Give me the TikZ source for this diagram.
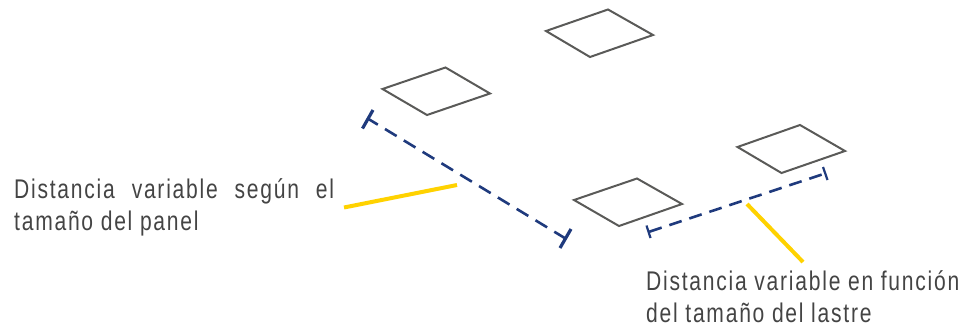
\documentclass[tikz,border=0pt]{standalone}
\usepackage{fontspec}
\newfontfamily\labfont[FakeStretch=0.78,LetterSpace=6.5]{Liberation Sans}
\definecolor{panelgray}{HTML}{5A5A58}
\definecolor{dimblue}{HTML}{1F3A7D}
\definecolor{leaderyellow}{HTML}{FFD200}
\definecolor{textgray}{HTML}{444444}
\tikzset{
  panel/.style={draw=panelgray,line width=2pt,line join=miter},
  dimline/.style={draw=dimblue,line width=2.6pt},
  dimtick/.style={draw=dimblue,line width=3.2pt},
  dimticksmall/.style={draw=dimblue,line width=2.2pt},
  leader/.style={draw=leaderyellow,line width=4pt},
  caption/.style={anchor=base west,inner sep=0pt,text=textgray,font=\labfont\fontsize{27}{32}\selectfont}
}
\begin{document}
\begin{tikzpicture}[x=1pt,y=-1pt]
\useasboundingbox (0,0) rectangle (969,327);
% panels
\draw[panel] (546,31) -- (608,9.5) -- (653,35) -- (590,57) -- cycle;
\draw[panel] (382.5,89) -- (445.5,67.5) -- (490,93.5) -- (427,115) -- cycle;
\draw[panel] (574,200) -- (637,178.5) -- (682,204) -- (619,226) -- cycle;
\draw[panel] (737.5,147) -- (800,125) -- (845,151) -- (781.5,173) -- cycle;
% dimension 1
\coordinate (a1) at (368.5,119);
\coordinate (a2) at (565.5,238.5);
\coordinate (a1u) at (373,110);
\coordinate (a1d) at (362.5,128.5);
\coordinate (a2u) at (571,229);
\coordinate (a2d) at (560,248);
\draw[dimline,dash pattern=on 13.6pt off 8.4pt,dash phase=2.7pt] (a1) -- (a2);
\draw[dimtick] (a1u) -- (a1d);
\draw[dimtick] (a2u) -- (a2d);
% dimension 2
\coordinate (b1) at (648.5,232);
\coordinate (b2) at (825,173.5);
\coordinate (b1u) at (646.5,225.5);
\coordinate (b1d) at (650.5,238);
\coordinate (b2u) at (823,167);
\coordinate (b2d) at (827.5,180);
\draw[dimline,dash pattern=on 13pt off 8.07pt,dash phase=20.24pt] (b1) -- (b2);
\draw[dimticksmall] (b1u) -- (b1d);
\draw[dimticksmall] (b2u) -- (b2d);
% captions
\node[caption] (capa) at (14,198) {\hbox to 320pt{Distancia\hfill variable\hfill según\hfill el}};
\node[caption] (capb) at (14,230) {tamaño del panel};
\node[caption] (capc) at (646,290) {Distancia variable en función};
\node[caption] (capd) at (646,322.5) {del tamaño del lastre};
% leaders
\coordinate (la) at (344,207.5);
\coordinate (lb) at (457,185);
\coordinate (lc) at (747,204);
\coordinate (ld) at (803,262);
\draw[leader] (la) -- (lb);
\draw[leader] (lc) -- (ld);
\end{tikzpicture}
\end{document}
